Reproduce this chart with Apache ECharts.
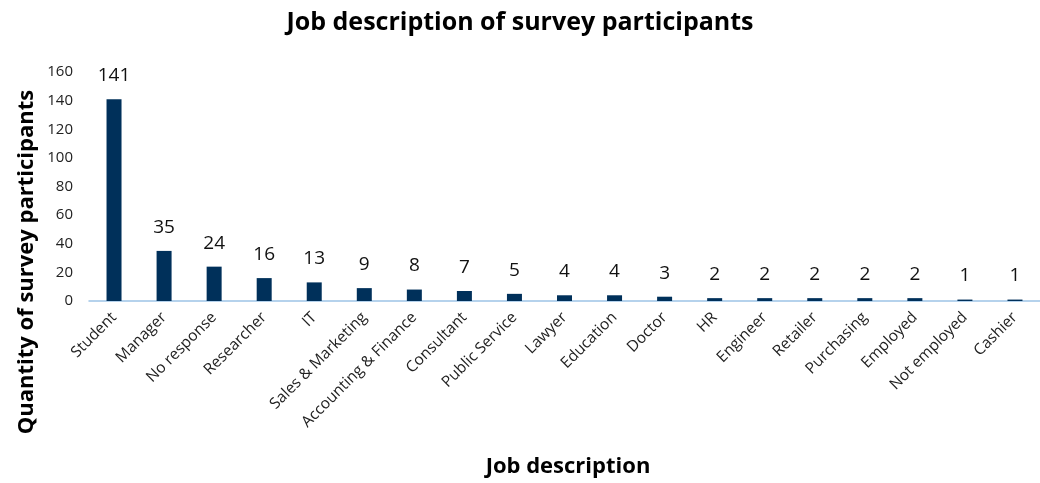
<!DOCTYPE html>
<html><head><meta charset="utf-8">
<script src="https://cdn.jsdelivr.net/npm/echarts@6/dist/echarts.min.js"></script>
<style>html,body{margin:0;padding:0;background:#fff}#c{width:1040px;height:483px}</style>
</head><body><div id="c"></div>
<script>
const categories = ["Student","Manager","No response","Researcher","IT","Sales & Marketing","Accounting & Finance","Consultant","Public Service","Lawyer","Education","Doctor","HR","Engineer","Retailer","Purchasing","Employed","Not employed","Cashier"];
const counts = [141,35,24,16,13,9,8,7,5,4,4,3,2,2,2,2,2,1,1];
const yTicks = {min:0, max:160, interval:20};
const titleText = "Job description of survey participants";
const xName = "Job description";
const yName = "Quantity of survey participants";

const FONT = "Open Sans";
const chart = echarts.init(document.getElementById('c'), null, {renderer:'canvas'});
chart.setOption({
  animation:false,
  title:{text:titleText,left:'center',top:5,textStyle:{fontFamily:FONT,fontSize:25,fontWeight:'bold',color:'#000'}},
  grid:{left:89,top:72,width:962,bottom:182,containLabel:false},
  xAxis:{type:'category',data:categories,
    axisLine:{lineStyle:{color:'#9DC3E6',width:1.5}},
    axisTick:{show:false},
    axisLabel:{rotate:45,fontFamily:FONT,fontSize:15.5,color:'#222',margin:14,interval:0}},
  yAxis:{type:'value',min:yTicks.min,max:yTicks.max,interval:yTicks.interval,
    splitLine:{show:false},axisLine:{show:false},axisTick:{show:false},
    axisLabel:{fontFamily:FONT,fontSize:15,color:'#222',margin:16}},
  graphic:[
    {type:'text',x:568,y:467,style:{text:xName,font:'bold 22px "Open Sans"',fill:'#000',align:'center',verticalAlign:'middle'}},
    {type:'text',x:27,y:262,rotation:Math.PI/2,style:{text:yName,font:'bold 22px "Open Sans"',fill:'#000',align:'center',verticalAlign:'middle'}}
  ],
  series:[{type:'bar',data:counts,barWidth:15,itemStyle:{color:'#00305A'},
    label:{show:true,position:'top',distance:14,fontFamily:FONT,fontSize:19,color:'#111'}}]
});
</script></body></html>
